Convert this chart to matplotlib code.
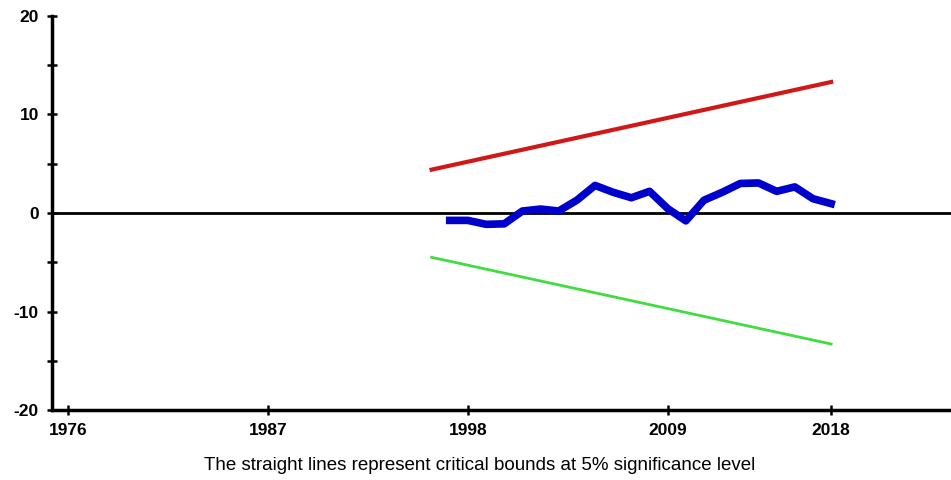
import matplotlib.pyplot as plt

# CUSUM of recursive residuals with 5% critical bounds
years = list(range(1997, 2019))
cusum = [-0.75, -0.75, -1.15, -1.1, 0.2, 0.4, 0.2, 1.3, 2.8, 2.1, 1.55,
         2.2, 0.45, -0.8, 1.3, 2.1, 3.0, 3.05, 2.2, 2.65, 1.45, 0.95]
bound_years = [1996, 2018]
upper = [4.4, 13.3]
lower = [-4.5, -13.3]

xticks = [1976, 1987, 1998, 2009, 2018]
yticks = [-20, -10, 0, 10, 20]
yminor = [-15, -5, 5, 15]

plt.rcParams['axes.unicode_minus'] = False
font = ['Liberation Sans', 'DejaVu Sans']

fig = plt.figure(figsize=(9.51, 4.8), dpi=100)
ax = fig.add_axes([52 / 951, 1 - 410 / 480, 1 - 52 / 951, (410 - 16) / 480])

ax.axhline(0, color='black', lw=2, zorder=1)
ax.plot(bound_years, upper, color='#d01818', lw=3)
ax.plot(bound_years, lower, color='#40dd40', lw=2)
ax.plot(years, cusum, color='#0000cc', lw=5.5, solid_joinstyle='round')

ax.set_xlim(1975.1, 2024.6)
ax.set_ylim(-20, 20)
ax.set_xticks(xticks)
ax.set_yticks(yticks)
ax.set_yticks(yminor, minor=True)

for s in ['top', 'right']:
    ax.spines[s].set_visible(False)
for s in ['left', 'bottom']:
    ax.spines[s].set_linewidth(2.5)

ax.tick_params(which='both', direction='inout', length=7, width=1.8, pad=6)
for lab in ax.get_xticklabels() + ax.get_yticklabels():
    lab.set_family(font)
    lab.set_fontweight('bold')
    lab.set_fontsize(12.5)

fig.text(480 / 951, 1 - 465 / 480,
         'The straight lines represent critical bounds at 5% significance level',
         ha='center', va='center', fontsize=13.5, family=font)

fig.savefig('out.png', dpi=100)
